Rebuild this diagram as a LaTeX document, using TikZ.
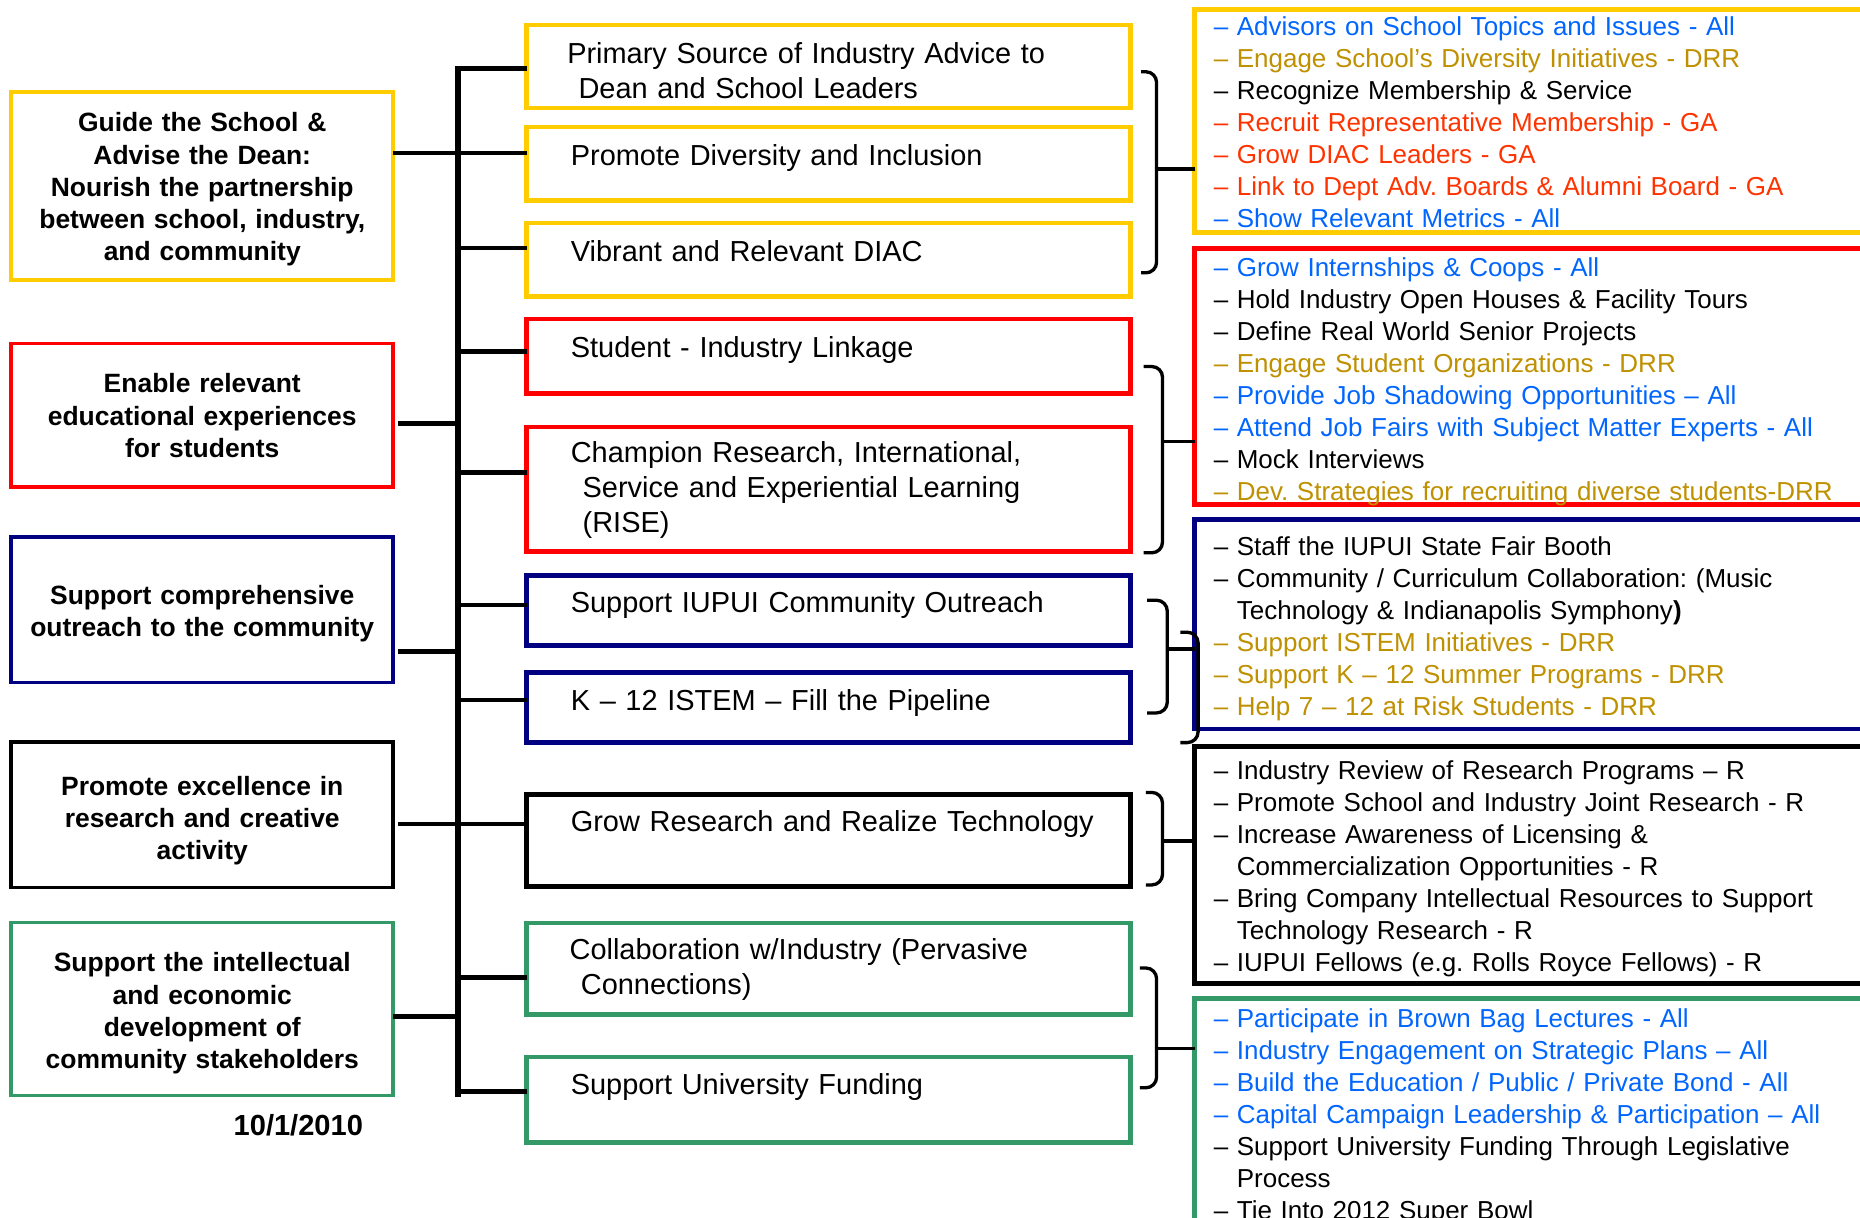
\documentclass[tikz,border=0pt]{standalone}
\usepackage{fontspec}
\setmainfont{Liberation Sans}
\definecolor{ygold}{RGB}{255,204,0}
\definecolor{bred}{RGB}{255,0,0}
\definecolor{bnavy}{RGB}{0,0,128}
\definecolor{bgreen}{RGB}{51,153,102}
\definecolor{tblue}{RGB}{0,102,255}
\definecolor{tgold}{RGB}{191,144,0}
\definecolor{tred}{RGB}{255,51,0}
\newcommand\clB[1]{\textcolor{tblue}{#1}}
\newcommand\clG[1]{\textcolor{tgold}{#1}}
\newcommand\clR[1]{\textcolor{tred}{#1}}
\newcommand\contind{\hspace*{19.5pt}}
\tikzset{
 lbox/.style={draw=#1, line width=3pt, minimum width=322pt, inner sep=0pt, outer sep=0pt},
 mbox/.style={draw=#1, line width=4pt, minimum width=509pt, inner sep=0pt, outer sep=0pt},
 rbox/.style={draw=#1, line width=4pt, minimum width=640pt, inner sep=0pt, outer sep=0pt, anchor=north west},
 ltext/.style={anchor=north, inner sep=0pt, text width=322pt, align=center, font=\fontsize{22.3}{27.2}\selectfont\bfseries},
 mtext/.style={anchor=north west, inner sep=0pt, text width=500pt, align=left, font=\fontsize{24.4}{29.5}\selectfont},
 rtext/.style={anchor=north west, inner sep=0pt, text width=600pt, align=left, font=\fontsize{21.9}{27}\selectfont\frenchspacing},
 spine/.style={line width=4.5pt},
 stub/.style={line width=4pt},
 brk/.style={line width=2.8pt, rounded corners=9pt},
 bstub/.style={line width=2.8pt},
}
\begin{document}
\begin{tikzpicture}[x=1pt,y=-1pt]
\fill[white] (0,0) rectangle (1568,1026);
\useasboundingbox (0,0) rectangle (1568,1026);

% ---------- left goal boxes ----------
\node[lbox=ygold, minimum height=158.5pt] (L1) at (170.5,156.75) {};
\node[ltext] (L1t) at (170.5,91.96) {\strut Guide the School \&\\Advise the Dean:\\Nourish the partnership\\between school, industry,\\and community};
\node[lbox=bred, minimum height=121pt] (L2) at (170.5,350) {};
\node[ltext] (L2t) at (170.5,311.96) {\strut Enable relevant\\educational experiences\\for students};
\node[lbox=bnavy, minimum height=123pt] (L3) at (170.5,514) {};
\node[ltext] (L3t) at (170.5,490.46) {\strut Support comprehensive\\outreach to the community};
\node[lbox=black, minimum height=122.5pt] (L4) at (170.5,686.75) {};
\node[ltext] (L4t) at (170.5,650.96) {\strut Promote excellence in\\research and creative\\activity};
\node[lbox=bgreen, minimum height=146pt] (L5) at (170.5,850.5) {};
\node[ltext] (L5t) at (170.5,799.96) {\strut Support the intellectual\\and economic\\development of\\community stakeholders};
\node[font=\fontsize{24.5}{29}\selectfont\bfseries, anchor=base, inner sep=0pt] (date) at (251.5,957) {10/1/2010};

% ---------- middle objective boxes ----------
\node[mbox=ygold, minimum height=70pt] (M1) at (698.5,56) {};
\node[mtext] (M1t) at (478,32.75) {\strut Primary Source of Industry Advice to\\\hspace*{9.5pt}Dean and School Leaders};
\node[mbox=ygold, minimum height=62pt] (M2) at (698.5,138) {};
\node[mtext] (M2t) at (481,118.35) {\strut Promote Diversity and Inclusion};
\node[mbox=ygold, minimum height=62pt] (M3) at (698.5,219) {};
\node[mtext] (M3t) at (481,199.95) {\strut Vibrant and Relevant DIAC};
\node[mbox=bred, minimum height=63pt] (M4) at (698.5,300.5) {};
\node[mtext] (M4t) at (481,280.85) {\strut Student - Industry Linkage};
\node[mbox=bred, minimum height=105pt] (M5) at (698.5,412.5) {};
\node[mtext] (M5t) at (481,369.35) {\strut Champion Research, International,\\\hspace*{10pt}Service and Experiential Learning\\\hspace*{10pt}(RISE)};
\node[mbox=bnavy, minimum height=59pt] (M6) at (698.5,514.5) {};
\node[mtext] (M6t) at (481,495.35) {\strut Support IUPUI Community Outreach};
\node[mbox=bnavy, minimum height=59pt] (M7) at (698.5,596.5) {};
\node[mtext] (M7t) at (481,577.85) {\strut K – 12 ISTEM – Fill the Pipeline};
\node[mbox=black, minimum height=78pt] (M8) at (698.5,708.5) {};
\node[mtext] (M8t) at (481,679.95) {\strut Grow Research and Realize Technology};
\node[mbox=bgreen, minimum height=77pt] (M9) at (698.5,816.5) {};
\node[mtext] (M9t) at (480,788.05) {\strut Collaboration w/Industry (Pervasive\\\hspace*{9.5pt}Connections)};
\node[mbox=bgreen, minimum height=72pt] (M10) at (698.5,927) {};
\node[mtext] (M10t) at (481,901.85) {\strut Support University Funding};

% ---------- right activity boxes ----------
\node[rbox=ygold, minimum height=188pt] (R1) at (1007,8) {};
\node[rtext] (R1t) at (1023,10.6) {\strut
\clB{– Advisors on School Topics and Issues - All}\\
\clG{– Engage School’s Diversity Initiatives - DRR}\\
– Recognize Membership \& Service\\
\clR{– Recruit Representative Membership - GA}\\
\clR{– Grow DIAC Leaders - GA}\\
\clR{– Link to Dept Adv. Boards \& Alumni Board - GA}\\
\clB{– Show Relevant Metrics - All}};

\node[rbox=bred, minimum height=216pt] (R2) at (1007,209.5) {};
\node[rtext] (R2t) at (1023,213.6) {\strut
\clB{– Grow Internships \& Coops - All}\\
– Hold Industry Open Houses \& Facility Tours\\
– Define Real World Senior Projects\\
\clG{– Engage Student Organizations - DRR}\\
\clB{– Provide Job Shadowing Opportunities – All}\\
\clB{– Attend Job Fairs with Subject Matter Experts - All}\\
– Mock Interviews\\
\clG{– Dev. Strategies for recruiting diverse students-DRR}};

\node[rbox=bnavy, minimum height=176.5pt] (R3) at (1007,438) {};
\node[rtext] (R3t) at (1023,449.1) {\strut
– Staff the IUPUI State Fair Booth\\
– Community / Curriculum Collaboration: (Music\\
\contind Technology \& Indianapolis Symphony{\bfseries )}\\
\clG{– Support ISTEM Initiatives - DRR}\\
\clG{– Support K – 12 Summer Programs - DRR}\\
\clG{– Help 7 – 12 at Risk Students - DRR}};

\node[rbox=black, minimum height=200pt] (R4) at (1007,629) {};
\node[rtext] (R4t) at (1023,637.6) {\strut
– Industry Review of Research Programs – R\\
– Promote School and Industry Joint Research - R\\
– Increase Awareness of Licensing \&\\
\contind Commercialization Opportunities - R\\
– Bring Company Intellectual Resources to Support\\
\contind Technology Research - R\\
– IUPUI Fellows (e.g. Rolls Royce Fellows) - R};

\node[rbox=bgreen, minimum height=258pt] (R5) at (1007,842) {};
\node[rtext] (R5t) at (1023,847.1) {\strut
\clB{– Participate in Brown Bag Lectures - All}\\
\clB{– Industry Engagement on Strategic Plans – All}\\
\clB{– Build the Education / Public / Private Bond - All}\\
\clB{– Capital Campaign Leadership \& Participation – All}\\
– Support University Funding Through Legislative\\
\contind Process\\
– Tie Into 2012 Super Bowl};

% ---------- spine and stubs ----------
\coordinate (spT) at (386,56);
\coordinate (spB) at (386,925);
\draw[spine] (spT) -- (spB);

\draw[stub] (L1.east |- 0,129) -- (spT |- 0,129);
\draw[stub] ([xshift=4pt]L2.east |- 0,357) -- (spT |- 0,357);
\draw[stub] ([xshift=4pt]L3.east |- 0,549) -- (spT |- 0,549);
\draw[stub] ([xshift=4pt]L4.east |- 0,694.7) -- (spT |- 0,694.7);
\draw[stub] (L5.east |- 0,857) -- (spT |- 0,857);

\draw[stub] (spT |- 0,58) -- (M1.west |- 0,58);
\draw[stub] (spT |- 0,129) -- (M2.west |- 0,129);
\draw[stub] (spT |- 0,209) -- (M3.west |- 0,209);
\draw[stub] (spT |- 0,296) -- (M4.west |- 0,296);
\draw[stub] (spT |- 0,398) -- (M5.west |- 0,398);
\draw[stub] (spT |- 0,510) -- (M6.west |- 0,510);
\draw[stub] (spT |- 0,590) -- (M7.west |- 0,590);
\draw[stub] (spT |- 0,694.7) -- (M8.west |- 0,694.7);
\draw[stub] (spT |- 0,824) -- (M9.west |- 0,824);
\draw[stub] (spT |- 0,920) -- (M10.west |- 0,920);

% ---------- brackets to the right boxes ----------
\draw[brk] (962,60.5) -- (975,60.5) -- (975,230) -- (962,230);
\coordinate (b1) at (975,142.5);
\draw[bstub] (b1) -- (b1 -| R1.west);

\draw[brk] (964,309) -- (980,309) -- (980,466) -- (964,466);
\coordinate (b2) at (980,372);
\draw[bstub] (b2) -- (b2 -| R2.west);

\draw[brk] (967,506) -- (984,506) -- (984,601) -- (967,601);
\coordinate (b3) at (984,547);
\draw[bstub] (b3) -- (b3 -| R3.west);
\draw[brk] (995,533) -- (1010,533) -- (1010,626) -- (995,626);

\draw[brk] (966,668) -- (980,668) -- (980,746) -- (966,746);
\coordinate (b4) at (980,709);
\draw[bstub] (b4) -- (b4 -| R4.west);

\draw[brk] (961,816) -- (975,816) -- (975,917) -- (961,917);
\coordinate (b5) at (975,884);
\draw[bstub] (b5) -- (b5 -| R5.west);
\end{tikzpicture}
\end{document}
